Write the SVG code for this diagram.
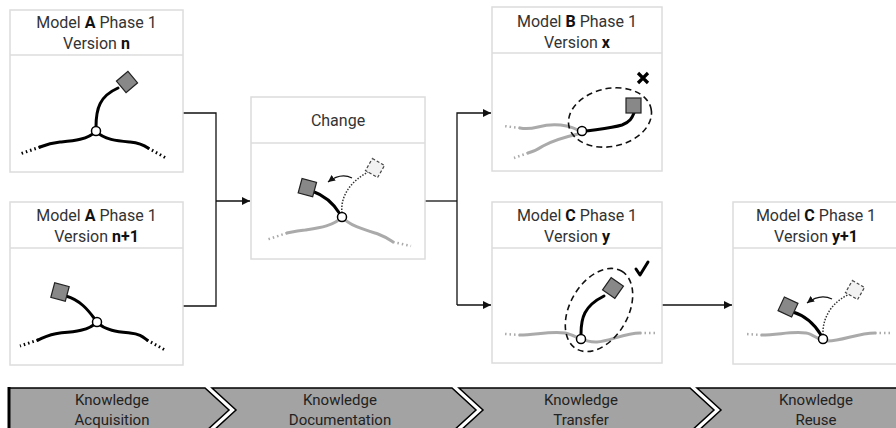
<svg xmlns="http://www.w3.org/2000/svg" width="896" height="428" viewBox="0 0 896 428">
<defs>
<style>
.box{fill:#fff;stroke:#dcdcdc;stroke-width:1.5}
.hd{font-family:Roboto,"Liberation Sans",sans-serif;font-size:16px;fill:#333;text-anchor:middle}
.b{font-weight:bold;fill:#111}
.blk{fill:none;stroke:#000;stroke-width:3;stroke-linecap:round}
.gry{fill:none;stroke:#aaa;stroke-width:3;stroke-linecap:round}
.dotk{fill:none;stroke:#000;stroke-width:3;stroke-dasharray:1.5 3;stroke-linecap:butt}
.dotg{fill:none;stroke:#aaa;stroke-width:2.5;stroke-dasharray:1.5 3}
.dotsm{fill:none;stroke:#333;stroke-width:1.5;stroke-dasharray:1.5 1.5}
.node{fill:#fff;stroke:#000;stroke-width:1.5}
.sq{fill:#888;stroke:#222;stroke-width:1.2}
.dsq{fill:#f2f2f2;stroke:#444;stroke-width:1.2;stroke-dasharray:3 2}
.ell{fill:none;stroke:#111;stroke-width:1.6;stroke-dasharray:6 4}
.con{fill:none;stroke:#111;stroke-width:1.3}
.seg{fill:#a3a3a3;stroke:#000;stroke-width:1.5}
.bt{font-family:Roboto,"Liberation Sans",sans-serif;font-size:15px;fill:#222;text-anchor:middle}
</style>
<marker id="ah" viewBox="0 0 10 10" refX="10" refY="5" markerWidth="8" markerHeight="8" markerUnits="userSpaceOnUse" orient="auto">
<path d="M0,0 L10,5 L0,10 z" fill="#111"/>
</marker>
<marker id="ah2" viewBox="0 0 10 10" refX="10" refY="5" markerWidth="7" markerHeight="7" markerUnits="userSpaceOnUse" orient="auto">
<path d="M0,0 L10,5 L0,10 z" fill="#111"/>
</marker>
</defs>

<g id="connectors">
<path class="con" d="M183,113 H216 V306 H183"/>
<path class="con" d="M216,201 H250" marker-end="url(#ah)"/>
<path class="con" d="M425,201 H457"/>
<path class="con" d="M457,305 V113 H491" marker-end="url(#ah)"/>
<path class="con" d="M457,305 H491" marker-end="url(#ah)"/>
<path class="con" d="M662,305 H732" marker-end="url(#ah)"/>
</g>

<g id="modelA-n">
<rect class="box" x="10" y="10" width="173" height="162"/>
<line class="box" x1="10" y1="55" x2="183" y2="55"/>
<text class="hd" x="96.5" y="28">Model <tspan class="b">A</tspan> Phase 1</text>
<text class="hd" x="96.5" y="49">Version <tspan class="b">n</tspan></text>
<path class="blk" d="M96,127 C96,108 100,96 118,88"/>
<path class="blk" d="M96,131 C88,140 72,141 60,142 C50,143 45,145 40,147"/>
<path class="blk" d="M96,131 C104,140 118,141 130,142 C140,143 144,145 148,148"/>
<path class="dotk" d="M40,147 L20,154"/>
<path class="dotk" d="M148,148 L166,158"/>
<rect class="sq" x="119.5" y="74.5" width="15" height="15" transform="rotate(-40 127 82)"/>
<circle class="node" cx="96" cy="131" r="4.5"/>
</g>

<g id="modelA-n1">
<rect class="box" x="10" y="202" width="173" height="163"/>
<line class="box" x1="10" y1="248" x2="183" y2="248"/>
<text class="hd" x="96.5" y="221">Model <tspan class="b">A</tspan> Phase 1</text>
<text class="hd" x="96.5" y="242">Version <tspan class="b">n+1</tspan></text>
<path class="blk" d="M94,318 C88,310 80,300 66,296"/>
<path class="blk" d="M97,322 C89,331 72,332 60,333 C50,334 45,337 38,340"/>
<path class="blk" d="M97,322 C105,331 120,332 130,333 C140,334 143,337 147,340"/>
<path class="dotk" d="M38,340 L20,346"/>
<path class="dotk" d="M147,340 L165,350"/>
<rect class="sq" x="52.5" y="284.5" width="15" height="15" transform="rotate(15 60 292)"/>
<circle class="node" cx="97" cy="322" r="4.5"/>
</g>

<g id="change">
<rect class="box" x="251" y="97" width="174" height="162"/>
<line class="box" x1="251" y1="143" x2="425" y2="143"/>
<text class="hd" x="338" y="126">Change</text>
<path class="gry" d="M342,217 C334,226 318,228 305,230 C296,231 292,232 287,233"/>
<path class="gry" d="M342,217 C350,226 365,230 378,234 C386,237 390,240 393,242"/>
<path class="dotg" d="M287,233 L266,240"/>
<path class="dotg" d="M393,242 L411,246"/>
<path class="dotsm" d="M342,213 C340,195 352,180 370,171"/>
<rect class="dsq" x="368" y="161" width="14" height="14" transform="rotate(30 375 168)"/>
<path class="blk" d="M340,214 C334,204 326,196 312,191"/>
<rect class="sq" x="300" y="180" width="15" height="15" transform="rotate(15 307 187)"/>
<path fill="none" stroke="#111" stroke-width="1.3" d="M352,178 C344,174 336,176 328,182" marker-end="url(#ah2)"/>
<circle class="node" cx="342" cy="217" r="4.5"/>
</g>

<g id="modelB-x">
<rect class="box" x="492" y="7" width="170" height="164"/>
<line class="box" x1="492" y1="53" x2="662" y2="53"/>
<text class="hd" x="577" y="27">Model <tspan class="b">B</tspan> Phase 1</text>
<text class="hd" x="577" y="48">Version <tspan class="b">x</tspan></text>
<path class="gry" d="M578,130 C565,124 550,124 538,127 C530,129 525,129 520,128"/>
<path class="gry" d="M578,134 C565,137 552,141 543,146 C537,150 532,152 528,153"/>
<path class="dotg" d="M520,128 L504,126"/>
<path class="dotg" d="M528,153 L514,158"/>
<path class="blk" d="M586,131 C600,129 612,128 622,125 C630,122 632,118 634,113"/>
<rect class="sq" x="626" y="98" width="15" height="15"/>
<circle class="node" cx="582" cy="131" r="4.5"/>
<ellipse class="ell" cx="610" cy="117.5" rx="42" ry="29" transform="rotate(-12 610 117.5)"/>
<path d="M638,73 L648,83 M648,73 L638,83" stroke="#000" stroke-width="3.2" stroke-linecap="butt"/>
</g>

<g id="modelC-y">
<rect class="box" x="492" y="202" width="170" height="161"/>
<line class="box" x1="492" y1="248" x2="662" y2="248"/>
<text class="hd" x="577" y="221">Model <tspan class="b">C</tspan> Phase 1</text>
<text class="hd" x="577" y="242">Version <tspan class="b">y</tspan></text>
<path class="gry" d="M520,335 C535,335 550,331 565,333 C575,335 585,343 597,342 C610,341 625,333 640,333"/>
<path class="dotg" d="M520,335 L505,334"/>
<path class="dotg" d="M640,333 L655,333"/>
<path class="blk" d="M581,334 C581,318 584,306 604,296"/>
<rect class="sq" x="605.5" y="280.5" width="15" height="15" transform="rotate(35 613 288)"/>
<circle class="node" cx="581" cy="339" r="4.5"/>
<ellipse class="ell" cx="599" cy="310" rx="45" ry="29" transform="rotate(-60 599 310)"/>
<path d="M636,269 L640,275 L648,262" fill="none" stroke="#000" stroke-width="3" stroke-linecap="round" stroke-linejoin="round"/>
</g>

<g id="modelC-y1">
<rect class="box" x="733" y="202" width="175" height="162"/>
<line class="box" x1="733" y1="248" x2="908" y2="248"/>
<text class="hd" x="816" y="221">Model <tspan class="b">C</tspan> Phase 1</text>
<text class="hd" x="816" y="242">Version <tspan class="b">y+1</tspan></text>
<path class="gry" d="M762,335 C778,335 792,331 806,333 C814,334 818,341 828,341 C842,341 858,333 875,333"/>
<path class="dotg" d="M762,335 L746,334"/>
<path class="dotg" d="M875,333 L893,333"/>
<path class="dotsm" d="M823,335 C822,315 835,300 850,294"/>
<rect class="dsq" x="848" y="283" width="14" height="14" transform="rotate(30 855 290)"/>
<path class="blk" d="M821,335 C815,325 806,316 793,312"/>
<rect class="sq" x="780.5" y="299.5" width="15" height="15" transform="rotate(25 788 307)"/>
<path fill="none" stroke="#111" stroke-width="1.3" d="M832,299 C824,295 815,297 807,303" marker-end="url(#ah2)"/>
<circle class="node" cx="823" cy="339" r="4.5"/>
</g>

<g id="banner">
<polygon class="seg" points="9,388 205,388 229,410 205,432 9,432"/>
<polygon class="seg" points="212,388 452,388 476,410 452,432 212,432 236,410"/>
<polygon class="seg" points="459,388 690,388 714,410 690,432 459,432 483,410"/>
<polygon class="seg" points="697,388 900,388 900,432 697,432 721,410"/>
<line x1="9" y1="387" x2="9" y2="432" stroke="#000" stroke-width="3"/>
<text class="bt" x="112" y="405">Knowledge</text>
<text class="bt" x="112" y="425">Acquisition</text>
<text class="bt" x="340" y="405">Knowledge</text>
<text class="bt" x="340" y="425">Documentation</text>
<text class="bt" x="581" y="405">Knowledge</text>
<text class="bt" x="581" y="425">Transfer</text>
<text class="bt" x="816" y="405">Knowledge</text>
<text class="bt" x="816" y="425">Reuse</text>
</g>
</svg>
